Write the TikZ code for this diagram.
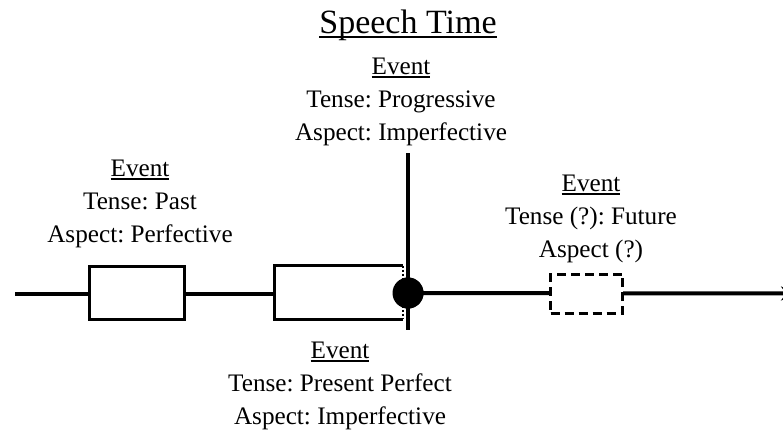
\documentclass[tikz,border=0pt]{standalone}
\usepackage{fontspec}
\setmainfont{Liberation Serif}
\usetikzlibrary{arrows.meta}
\frenchspacing

% underline sitting just below the baseline, crossing descenders
\newcommand\headul[1]{\setbox0\hbox{#1}\rlap{\rule[-0.14em]{\wd0}{0.065em}}\box0}

\tikzset{
  timeline/.style={line width=4pt},
  eventbox/.style={rectangle, draw, line width=3pt, fill=white, inner sep=0pt},
  futurebox/.style={eventbox, dash pattern=on 9pt off 5pt},
  label/.style={align=center, font=\fontsize{25.2}{33}\selectfont, inner sep=0pt},
  title/.style={font=\fontsize{34}{38}\selectfont, inner sep=0pt},
}

\begin{document}
\begin{tikzpicture}[x=1pt, y=-1pt]
  \clip (0,0) rectangle (783,432);
  \fill[white] (0,0) rectangle (783,432);

  % timeline anchors
  \coordinate (start) at (15,293.5);
  \coordinate (end) at (797,293.5);

  % event boxes
  \node[eventbox, minimum width=95pt, minimum height=53pt] (past) at (137,292.5) {};
  \node[rectangle, inner sep=0pt, minimum width=128.5pt, minimum height=53pt] (perf) at (338.75,292.5) {};
  \node[futurebox, minimum width=72pt, minimum height=39pt] (fut) at (586.5,293.5) {};

  % speech time marker
  \coordinate (stop) at (408,153);
  \coordinate (sbot) at (408,330);
  \node[circle, fill=black, minimum size=31pt, inner sep=0pt] (now) at (408,293) {};

  % timeline segments
  \draw[timeline] (start) -- (start -| past.west);
  \draw[timeline] (start -| past.east) -- (start -| perf.west);
  \draw[timeline, -{Stealth[length=16pt, width=14pt]}] (now.center) -- (end);

  % present-perfect box: solid on three sides, dotted where it meets the present
  \draw[line width=3pt, fill=white] (perf.north east) -- (perf.north west) -- (perf.south west) -- (perf.south east);
  \draw[line width=1.5pt, dash pattern=on 2pt off 2pt] (perf.north east) -- (perf.south east);

  % redraw future box over the line
  \node[futurebox, minimum width=72pt, minimum height=39pt] at (fut.center) {};

  \draw[line width=4pt] (stop) -- (sbot);
  \node[circle, fill=black, minimum size=31pt, inner sep=0pt] at (now.center) {};

  % labels (base anchor = baseline of the last line)
  \node[title, anchor=base] (ttl) at (408,33) {\headul{Speech Time}};
  \node[label, anchor=base] (lnow) at (401,140) {\headul{Event}\\Tense: Progressive\\Aspect: Imperfective};
  \node[label, anchor=base] (lpast) at (140,242) {\headul{Event}\\Tense: Past\\Aspect: Perfective};
  \node[label, anchor=base] (lfut) at (591,257) {\headul{Event}\\Tense (?): Future\\Aspect (?)};
  \node[label, anchor=base] (lperf) at (340,424) {\headul{Event}\\Tense: Present Perfect\\Aspect: Imperfective};
\end{tikzpicture}
\end{document}
